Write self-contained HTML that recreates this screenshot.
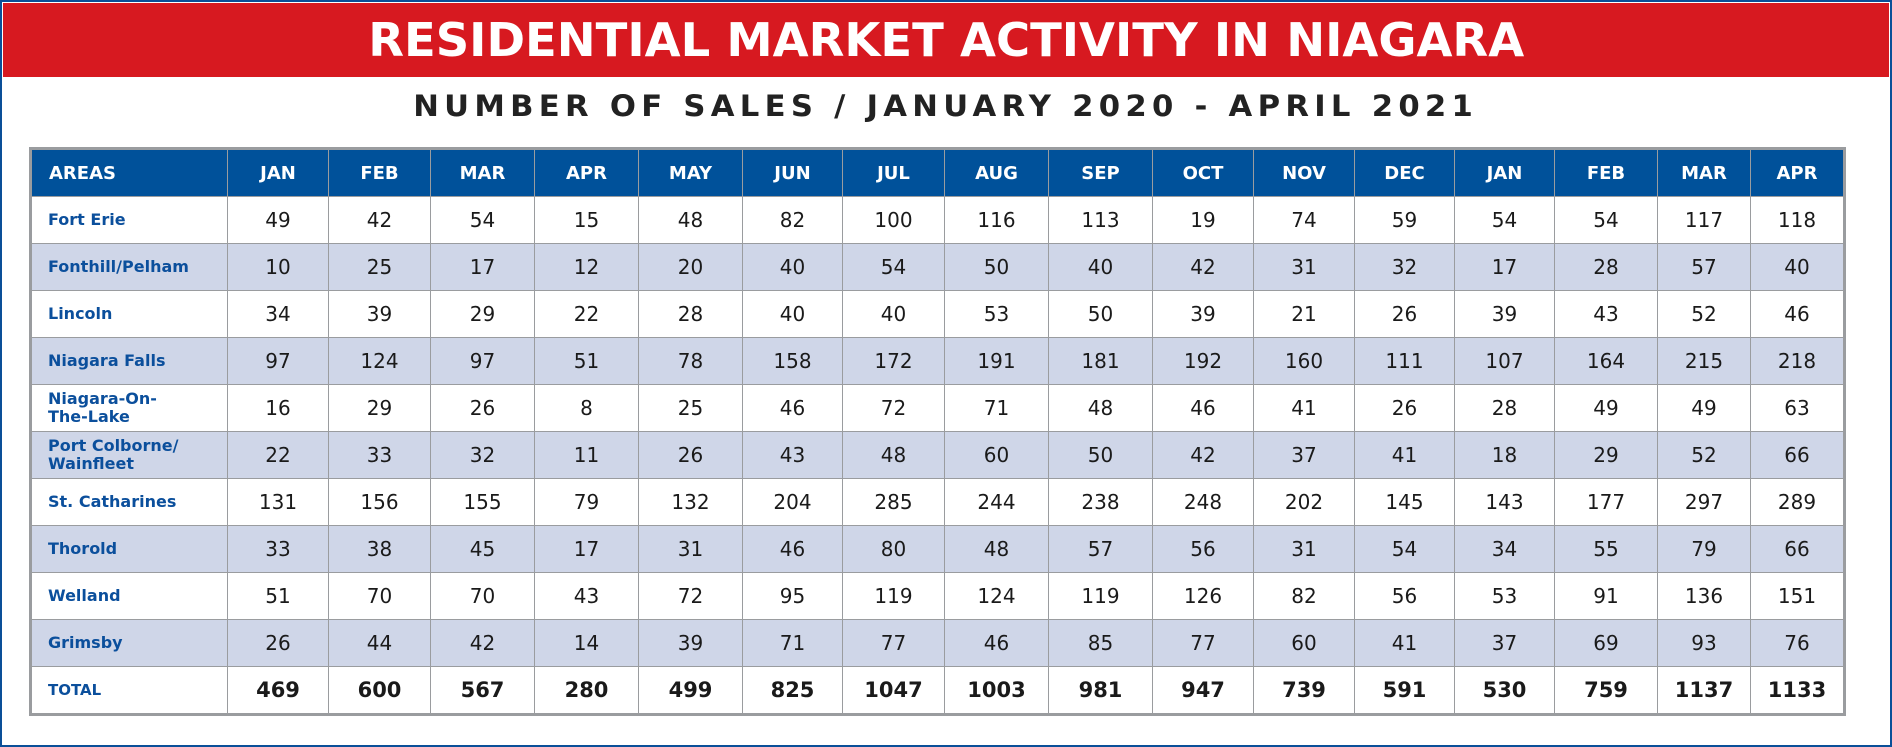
<!DOCTYPE html>
<html><head><meta charset="utf-8"><style>
html,body{margin:0;padding:0;background:#fff}
#page{position:relative;width:1892px;height:747px;overflow:hidden;font-family:"DejaVu Sans","Liberation Sans",sans-serif}
#frame{position:absolute;left:0;top:0;width:1888px;height:743px;border:2px solid #0a4f98}
#banner{position:absolute;left:3px;top:3px;width:1886px;height:74px;background:#d71920}
#title{position:absolute;left:0;top:0;width:1886px;height:74px;line-height:74px;text-align:center;color:#fff;font-weight:bold;font-size:46px;white-space:nowrap}
#sub{position:absolute;left:0;top:89px;width:1892px;text-align:center;color:#222;font-weight:bold;font-size:29px;letter-spacing:5px;white-space:nowrap}
#tbl{position:absolute;left:29px;top:147px;border-collapse:collapse;border:3px solid #9a9c9f}
#tbl td,#tbl th{border:1.5px solid #9a9c9f;padding:0;height:46px;text-align:center}
#tbl th{background:#00519a;color:#fff;font-size:18px;font-weight:bold}
#tbl th.area{text-align:left;padding-left:17px}
#tbl td{font-size:20px;color:#1a1a1a}
#tbl td.name{text-align:left;padding-left:16px;color:#0b4f9c;font-weight:bold;font-size:16px;line-height:18px}
#tbl tr.alt td{background:#cfd6e8}
#tbl tr.total td{font-weight:bold;font-size:21px}
#tbl tr.total td.name{font-size:15px}
</style></head><body>
<div id="page">
<div id="frame"></div>
<div id="banner"><div id="title"><span id="tspan">RESIDENTIAL MARKET ACTIVITY IN NIAGARA</span></div></div>
<div id="sub"><span id="sspan">NUMBER OF SALES / JANUARY 2020 - APRIL 2021</span></div>
<table id="tbl"><tbody id="tb"></tbody></table>
</div>
<script>
const months=["JAN","FEB","MAR","APR","MAY","JUN","JUL","AUG","SEP","OCT","NOV","DEC","JAN","FEB","MAR","APR"];
const areas=["Fort Erie","Fonthill/Pelham","Lincoln","Niagara Falls","Niagara-On-<br>The-Lake","Port Colborne/<br>Wainfleet","St. Catharines","Thorold","Welland","Grimsby"];
const fortErie=[49,42,54,15,48,82,100,116,113,19,74,59,54,54,117,118];
const fonthill=[10,25,17,12,20,40,54,50,40,42,31,32,17,28,57,40];
const lincoln=[34,39,29,22,28,40,40,53,50,39,21,26,39,43,52,46];
const niagaraFalls=[97,124,97,51,78,158,172,191,181,192,160,111,107,164,215,218];
const notl=[16,29,26,8,25,46,72,71,48,46,41,26,28,49,49,63];
const portColborne=[22,33,32,11,26,43,48,60,50,42,37,41,18,29,52,66];
const stCatharines=[131,156,155,79,132,204,285,244,238,248,202,145,143,177,297,289];
const thorold=[33,38,45,17,31,46,80,48,57,56,31,54,34,55,79,66];
const welland=[51,70,70,43,72,95,119,124,119,126,82,56,53,91,136,151];
const grimsby=[26,44,42,14,39,71,77,46,85,77,60,41,37,69,93,76];
const totals=[469,600,567,280,499,825,1047,1003,981,947,739,591,530,759,1137,1133];
const rows=[fortErie,fonthill,lincoln,niagaraFalls,notl,portColborne,stCatharines,thorold,welland,grimsby];
const edges=[29,227,329,432,537,642,747,848,951,1056,1161,1263,1365,1466,1567,1671,1765,1859];
const tb=document.getElementById('tb');
function cell(tag,html,cls,w,name){const c=document.createElement(tag);c.innerHTML=html;if(cls)c.className=cls;if(w)c.style.width=w+'px';


return c;}
let hr=document.createElement('tr');


hr.appendChild(cell('th','AREAS','area',edges[1]-edges[0]-20,'areas-header'));
months.forEach((m,i)=>hr.appendChild(cell('th',m,'',edges[i+2]-edges[i+1]-2,'month-header-'+(i+1))));
tb.appendChild(hr);
rows.forEach((r,ri)=>{const tr=document.createElement('tr');if(ri%2)tr.className='alt';


tr.appendChild(cell('td',areas[ri],'name',0,'area-name'));
r.forEach((v,i)=>tr.appendChild(cell('td',v,'',0,'sales-value')));tb.appendChild(tr);});
const tt=document.createElement('tr');tt.className='total';


tt.appendChild(cell('td','TOTAL','name',0,'total-label'));
totals.forEach(v=>tt.appendChild(cell('td',v,'',0,'total-value')));tb.appendChild(tt);
function fit(id,w){const s=document.getElementById(id);s.style.display='inline-block';const cw=s.getBoundingClientRect().width;s.style.transform='scaleX('+(w/cw)+')';}
fit('tspan',1156);fit('sspan',1065);
</script>
</body></html>
